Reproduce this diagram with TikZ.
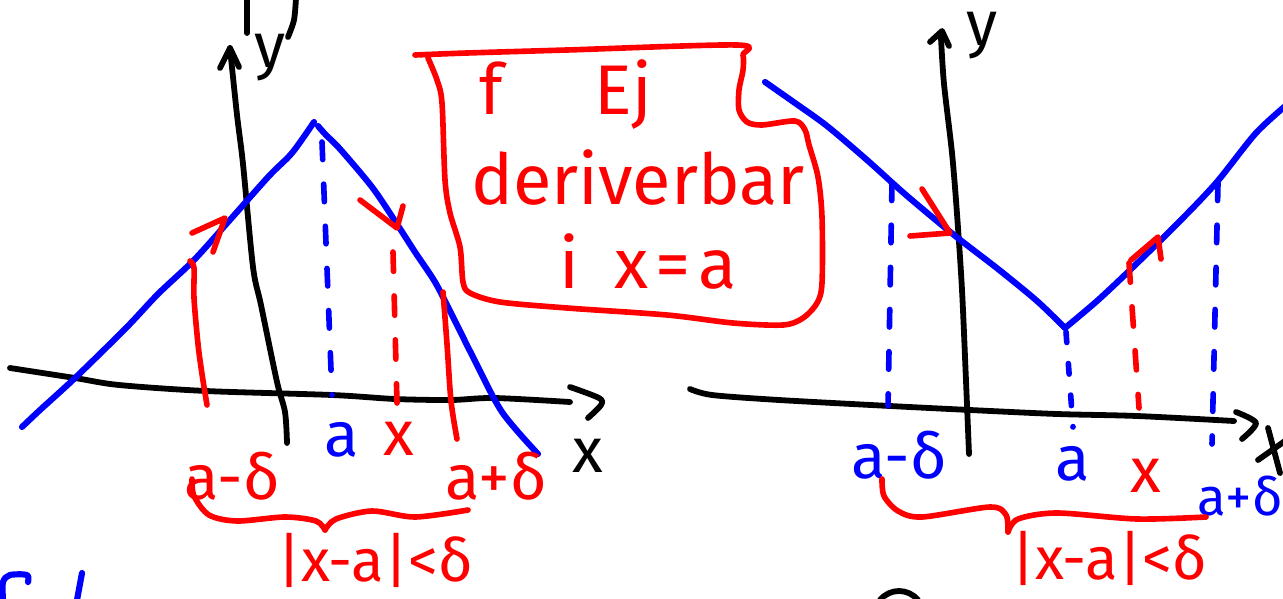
\documentclass[tikz,border=0pt]{standalone}
\usepackage{fontspec}
\setmainfont{Fira Sans}
\usetikzlibrary{arrows.meta}
\definecolor{penblue}{RGB}{0, 0, 255}
\definecolor{penred}{RGB}{255, 0, 0}

\begin{document}
\begin{tikzpicture}[x=0.02cm, y=-0.02cm, line cap=round, line join=round,
    axis/.style={black, line width=3.3pt},
    graph/.style={penblue, line width=3.5pt},
    redpen/.style={penred, line width=3.2pt},
    bluedash/.style={penblue, line width=3.2pt, dash pattern=on 10pt off 14pt},
    reddash/.style={penred, line width=3.2pt, dash pattern=on 11pt off 14pt},
    lbl/.style={inner sep=0pt, font=\fontsize{36}{36}\selectfont},
    boxtext/.style={inner sep=0pt, text=penred, font=\fontsize{40}{40}\selectfont}]
    \useasboundingbox (0,0) rectangle (1283,598);

    % left picture: peak at x=a
    \draw[axis] plot[smooth] coordinates {(10,368) (75,378) (119,385) (206,391) (332,395) (395,399) (451,400) (494,398) (570,402)};
    \draw[axis] plot[smooth] coordinates {(570,387) (599,398) (601,405) (588,418)};
    \draw[axis] plot[smooth] coordinates {(287,443) (285,412) (277,382) (261,305) (253,267) (243,164) (237,115) (230,48)};
    \draw[axis] (220,68) -- (230,48) -- (239,67);
    \node[lbl] (y1) at (270,58) {y};
    \node[lbl] (x1) at (588,456) {x};
    \draw[graph] plot[smooth] coordinates {(22,427) (40,410) (75,378) (126,328) (158,294) (194,260) (229,221) (269,176) (292,153) (314,122)};
    \draw[graph] plot[smooth] coordinates {(318,126) (326,135) (340,149) (372,187) (395,221) (415,252) (435,282) (451,313) (474,359) (502,412) (538,454)};
    \draw[bluedash] (322,142) -- (332,395);
    \draw[reddash] (393,252) -- (397,403);
    \draw[redpen] plot[smooth] coordinates {(190,261) (194,268) (194,298) (198,344) (202,374) (207,405)};
    \draw[redpen] plot[smooth] coordinates {(443,292) (447,344) (451,401) (457,439)};
    \draw[redpen] (192,233) -- (225,218) -- (213,252);
    \draw[redpen] (360,200) -- (397,228) -- (403,206);
    \node[lbl, text=penblue] (a1) at (342,440) {a};
    \node[lbl, text=penred] (xa1) at (399,439) {x};
    \node[lbl, text=penred] (lo1) at (232,476) {a-δ};
    \node[lbl, text=penred] (hi1) at (496,476) {a+δ};
    \draw[redpen] plot[smooth] coordinates {(192,479) (194,496) (209,515) (237,521) (285,517) (316,521) (325,530)};
    \draw[redpen] plot[smooth] coordinates {(325,530) (336,519) (372,511) (415,517) (468,510)};
    \node[lbl, text=penred, font=\fontsize{34}{34}\selectfont] (ineq1) at (375,560) {|x-a|<δ};

    % note in the middle
    \draw[redpen] plot[smooth, tension=0.5] coordinates {(415,55) (467,53) (567,50) (737,45) (743,55) (743,70) (739,90) (739,110) (747,122) (762,125) (795,121) (805,130) (809,145) (818,177) (822,217) (822,283) (817,303) (803,318) (783,325) (733,323) (667,315) (567,308) (500,302) (470,293) (463,282) (460,247) (450,213) (445,180) (442,103) (437,80) (428,58)};
    \node[boxtext] (note1) at (566,95) {f\hspace{1.3em}Ej};
    \node[boxtext] (note2) at (638,178) {deriverbar};
    \node[boxtext] (note3) at (648,262) {i\hspace{0.5em}x\hspace{0.1em}=\hspace{0.1em}a};

    % right picture: corner at x=a
    \draw[axis] plot[smooth] coordinates {(690,389) (712,395) (779,400) (890,406) (970,410) (1057,414) (1137,416) (1234,421)};
    \draw[axis] plot[smooth] coordinates {(1236,412) (1256,423) (1242,439)};
    \draw[axis] plot[smooth] coordinates {(969,454) (966,381) (962,290) (957,214) (952,153) (944,84) (941,38)};
    \draw[axis] (930,42) -- (942,31) -- (949,46);
    \node[lbl] (y2) at (982,36) {y};
    \draw[axis] (1268,428) -- (1280,473);
    \draw[axis] (1258,460) -- (1292,436);
    \draw[graph] plot[smooth] coordinates {(765,82) (795,103) (827,126) (867,160) (906,195) (954,235) (998,269) (1037,301) (1065,328)};
    \draw[graph] plot[smooth] coordinates {(1065,328) (1097,301) (1129,271) (1176,225) (1216,183) (1256,133) (1290,102)};
    \draw[bluedash] (892,183) -- (888,406);
    \draw[bluedash, dash pattern=on 6pt off 12pt] (1066,332) -- (1073,427);
    \draw[bluedash] (1218,183) -- (1212,444);
    \draw[reddash] (1129,263) -- (1139,408);
    \draw[redpen] (922,189) -- (950,233) -- (910,236);
    \draw[redpen] (1131,260) -- (1158,237) -- (1161,259);
    \node[lbl, text=penblue] (lo2) at (899,455) {a-δ};
    \node[lbl, text=penblue] (a2) at (1073,464) {a};
    \node[lbl, text=penred] (xa2) at (1146,476) {x};
    \node[lbl, text=penblue, font=\fontsize{30}{30}\selectfont] (hi2) at (1240,496) {a+δ};
    \draw[redpen] plot[smooth] coordinates {(882,479) (884,496) (898,511) (922,517) (990,507) (1006,515) (1008,532)};
    \draw[redpen] plot[smooth] coordinates {(1008,532) (1018,519) (1057,513) (1137,519) (1206,517)};
    \node[lbl, text=penred, font=\fontsize{34}{34}\selectfont] (ineq2) at (1109,558) {|x-a|<δ};

    % pieces cut off at the edges
    \draw[axis] (247,0) -- (247,33);
    \draw[axis] plot[smooth] coordinates {(296,-2) (294,20) (288,37)};
    \draw[graph] plot[smooth] coordinates {(3,600) (3,582) (10,575) (27,575) (28,582)};
    \draw[graph] (82,573) -- (77,600);
    \draw[axis] (880,600) .. controls (890,588) and (908,588) .. (918,600);
\end{tikzpicture}
\end{document}
